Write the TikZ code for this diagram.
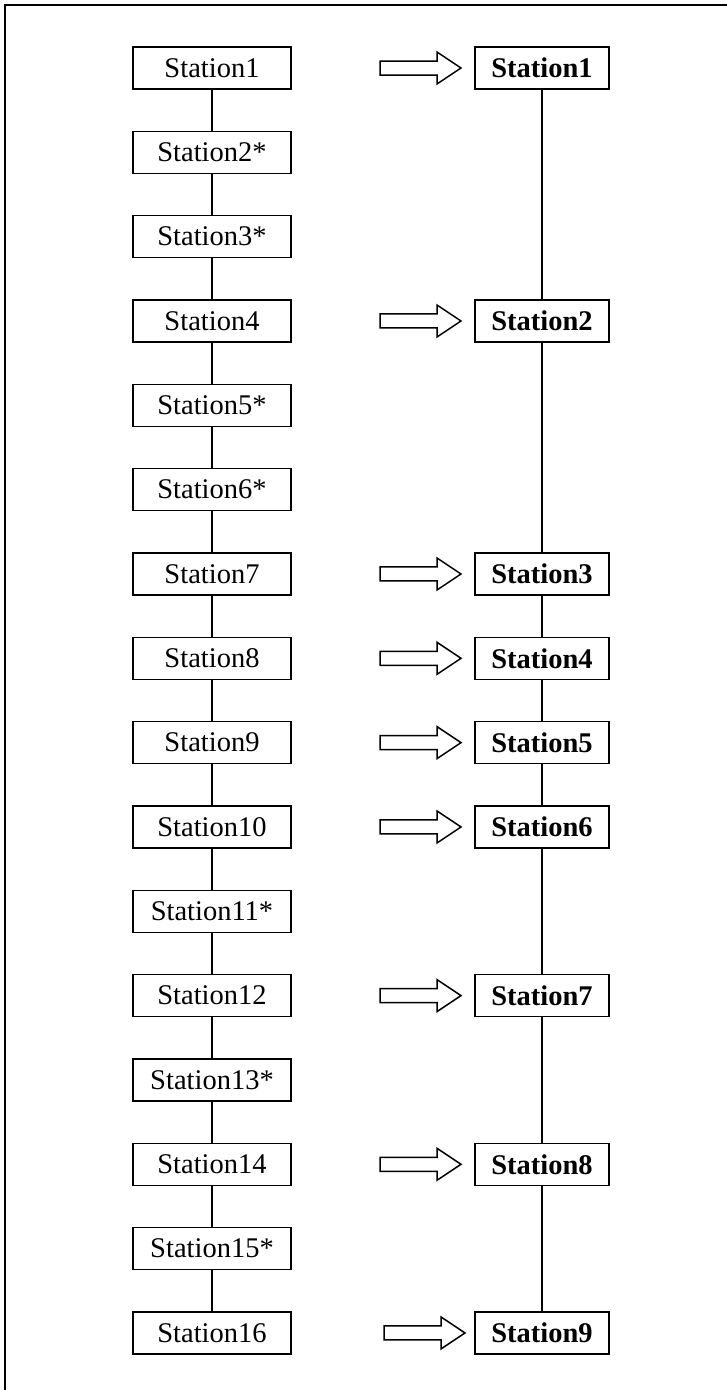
\documentclass[tikz,border=0pt]{standalone}
\usepackage{fontspec}
\setmainfont{Liberation Serif}
\begin{document}
\begin{tikzpicture}[x=1pt,y=-1pt,
  box/.style={draw=black,line width=1.5pt,fill=white,inner sep=0pt,minimum height=42pt,font=\fontsize{28.5}{34}\selectfont},
  lbox/.style={box,minimum width=158pt},
  rbox/.style={box,minimum width=134pt,font=\fontsize{28.5}{34}\selectfont\bfseries},
  link/.style={line width=1.5pt},
  bigarrow/.style={draw=black,line width=1.5pt,fill=white,line join=miter},
  frame/.style={line width=2.5pt}]
\useasboundingbox (0,0) rectangle (727,1390);
\draw[frame] (5,1395) -- (5,5) -- (732,5);
% left column
\foreach \i/\t in {1/Station1,2/Station2*,3/Station3*,4/Station4,5/Station5*,6/Station6*,7/Station7,8/Station8,9/Station9,10/Station10,11/Station11*,12/Station12,13/Station13*,14/Station14,15/Station15*,16/Station16}{
  \node[lbox] (L\i) at (212,{68+84.33*(\i-1)}) {\t};
}
\foreach \i [evaluate=\i as \j using int(\i+1)] in {1,...,15}{
  \draw[link] (L\i.south) -- (L\j.north);
}
% right column
\foreach \k/\r in {1/1,2/4,3/7,4/8,5/9,6/10,7/12,8/14,9/16}{
  \node[rbox] (R\k) at (542,{68+84.33*(\r-1)}) {Station\k};
  \coordinate (A\k) at ({\r==16 ? 384 : 380},{68+84.33*(\r-1)});
  \draw[bigarrow] ([shift={(0,-7)}]A\k) -- ++(57,0) -- ++(0,-9) -- ++(24,16) -- ++(-24,16) -- ++(0,-9) -- ++(-57,0) -- cycle;
}
\foreach \k [evaluate=\k as \m using int(\k+1)] in {1,...,8}{
  \draw[link] (R\k.south) -- (R\m.north);
}
\end{tikzpicture}
\end{document}
